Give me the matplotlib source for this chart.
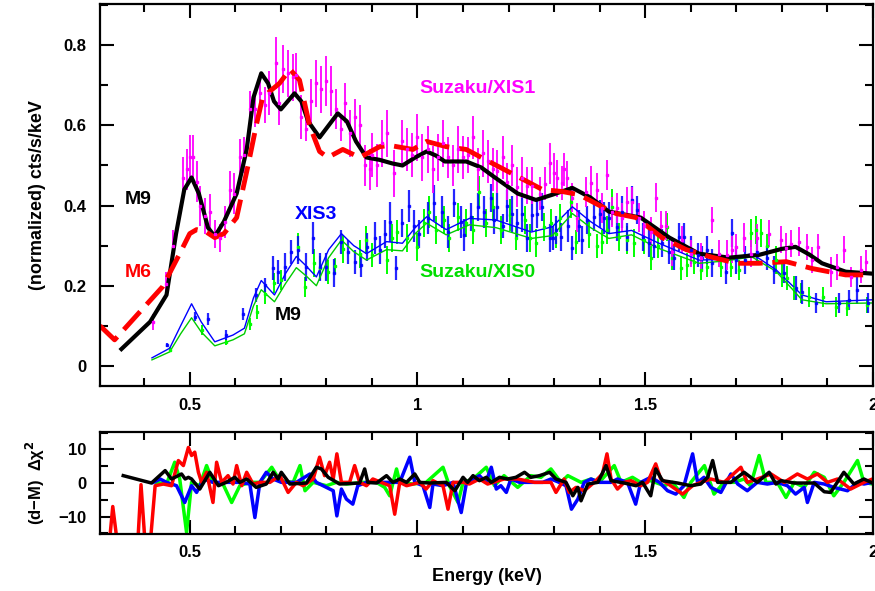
import numpy as np
import matplotlib.pyplot as plt
from matplotlib.ticker import MultipleLocator

plt.rcParams['font.family'] = ['Liberation Sans', 'DejaVu Sans']
plt.rcParams['font.weight'] = 'bold'
plt.rcParams['axes.labelweight'] = 'bold'

# XIS1 data (energy keV, counts, half error)
xis1_e = [0.420, 0.447, 0.463, 0.485, 0.493, 0.500, 0.507, 0.515, 0.522, 0.533,
          0.544, 0.555, 0.566, 0.577, 0.588, 0.598, 0.610, 0.620, 0.632, 0.643,
          0.654, 0.665, 0.675, 0.689, 0.697, 0.704, 0.715, 0.726, 0.734, 0.745,
          0.756, 0.767, 0.778, 0.789, 0.800, 0.811, 0.822, 0.833, 0.840, 0.851,
          0.862, 0.873, 0.884, 0.895, 0.900, 0.912, 0.923, 0.934, 0.949, 0.965,
          0.976, 0.987, 0.998, 1.009, 1.022, 1.033, 1.044, 1.055, 1.066, 1.077,
          1.088, 1.099, 1.110, 1.121, 1.132, 1.143, 1.154, 1.165, 1.175, 1.187,
          1.197, 1.208, 1.219, 1.230, 1.241, 1.252, 1.268, 1.279, 1.290, 1.300,
          1.307, 1.318, 1.322, 1.329, 1.340, 1.351, 1.370, 1.382, 1.393, 1.404,
          1.415, 1.426, 1.437, 1.448, 1.459, 1.470, 1.487, 1.498, 1.513, 1.524,
          1.535, 1.546, 1.559, 1.581, 1.600, 1.623, 1.647, 1.662, 1.680, 1.690,
          1.700, 1.717, 1.732, 1.746, 1.772, 1.798, 1.810, 1.820, 1.838, 1.855,
          1.867, 1.880, 1.908, 1.922, 1.937, 1.952, 1.973, 1.985]
xis1_v = [0.110, 0.205, 0.300, 0.470, 0.490, 0.520, 0.520, 0.460, 0.400, 0.375,
          0.385, 0.330, 0.320, 0.360, 0.440, 0.430, 0.520, 0.525, 0.640, 0.640,
          0.680, 0.650, 0.680, 0.755, 0.655, 0.740, 0.730, 0.720, 0.725, 0.620,
          0.590, 0.660, 0.705, 0.690, 0.710, 0.685, 0.640, 0.590, 0.655, 0.580,
          0.620, 0.600, 0.500, 0.490, 0.526, 0.500, 0.555, 0.580, 0.480, 0.560,
          0.540, 0.526, 0.570, 0.520, 0.540, 0.490, 0.520, 0.555, 0.520, 0.500,
          0.540, 0.520, 0.526, 0.570, 0.490, 0.530, 0.510, 0.490, 0.485, 0.520,
          0.460, 0.500, 0.447, 0.470, 0.450, 0.450, 0.430, 0.455, 0.505, 0.480,
          0.468, 0.456, 0.490, 0.470, 0.420, 0.370, 0.434, 0.456, 0.440, 0.394,
          0.476, 0.384, 0.394, 0.370, 0.410, 0.410, 0.370, 0.350, 0.335, 0.420,
          0.350, 0.350, 0.285, 0.315, 0.280, 0.270, 0.364, 0.280, 0.277, 0.290,
          0.297, 0.320, 0.280, 0.320, 0.330, 0.315, 0.295, 0.305, 0.310, 0.297,
          0.264, 0.297, 0.235, 0.247, 0.290, 0.222, 0.240, 0.260]
xis1_err = [0.020, 0.030, 0.040, 0.050, 0.050, 0.055, 0.055, 0.050, 0.050, 0.045,
            0.045, 0.035, 0.035, 0.040, 0.045, 0.050, 0.045, 0.045, 0.045, 0.045,
            0.050, 0.045, 0.055, 0.065, 0.055, 0.060, 0.058, 0.058, 0.055, 0.055,
            0.030, 0.055, 0.058, 0.058, 0.062, 0.062, 0.050, 0.030, 0.050, 0.058,
            0.046, 0.050, 0.050, 0.050, 0.054, 0.054, 0.058, 0.058, 0.058, 0.054,
            0.054, 0.054, 0.058, 0.058, 0.058, 0.058, 0.058, 0.058, 0.050, 0.050,
            0.058, 0.054, 0.046, 0.054, 0.054, 0.058, 0.054, 0.054, 0.054, 0.054,
            0.046, 0.050, 0.050, 0.050, 0.046, 0.046, 0.042, 0.042, 0.050, 0.050,
            0.046, 0.042, 0.042, 0.042, 0.037, 0.037, 0.037, 0.042, 0.042, 0.037,
            0.037, 0.037, 0.037, 0.037, 0.037, 0.037, 0.037, 0.037, 0.037, 0.037,
            0.037, 0.037, 0.037, 0.033, 0.033, 0.037, 0.033, 0.033, 0.037, 0.033,
            0.033, 0.037, 0.033, 0.033, 0.033, 0.033, 0.037, 0.033, 0.037, 0.033,
            0.033, 0.033, 0.037, 0.033, 0.033, 0.025, 0.033, 0.030]

# XIS3 data
xis3_e = [0.450, 0.511, 0.540, 0.579, 0.618, 0.645, 0.665, 0.682, 0.693, 0.710,
          0.723, 0.737, 0.756, 0.770, 0.785, 0.800, 0.816, 0.833, 0.847, 0.862,
          0.877, 0.890, 0.906, 0.917, 0.928, 0.940, 0.953, 0.967, 0.982, 0.993,
          1.004, 1.022, 1.037, 1.053, 1.066, 1.081, 1.096, 1.103, 1.118, 1.132,
          1.147, 1.162, 1.169, 1.175, 1.187, 1.197, 1.208, 1.219, 1.230, 1.241,
          1.252, 1.263, 1.274, 1.290, 1.297, 1.305, 1.316, 1.330, 1.340, 1.355,
          1.362, 1.373, 1.388, 1.400, 1.410, 1.420, 1.439, 1.450, 1.461, 1.471,
          1.483, 1.494, 1.509, 1.520, 1.537, 1.553, 1.564, 1.575, 1.586, 1.600,
          1.615, 1.625, 1.636, 1.647, 1.677, 1.690, 1.700, 1.720, 1.746, 1.768,
          1.783, 1.805, 1.831, 1.845, 1.875, 1.925, 1.947, 1.965, 1.990]
xis3_v = [0.052, 0.123, 0.117, 0.077, 0.130, 0.177, 0.202, 0.244, 0.235, 0.247,
          0.284, 0.290, 0.247, 0.320, 0.247, 0.247, 0.232, 0.310, 0.284, 0.260,
          0.252, 0.297, 0.320, 0.290, 0.330, 0.360, 0.244, 0.356, 0.400, 0.350,
          0.330, 0.370, 0.406, 0.385, 0.335, 0.406, 0.360, 0.327, 0.372, 0.397,
          0.384, 0.420, 0.364, 0.397, 0.350, 0.400, 0.380, 0.356, 0.380, 0.320,
          0.376, 0.380, 0.397, 0.320, 0.318, 0.340, 0.322, 0.350, 0.294, 0.350,
          0.314, 0.364, 0.372, 0.380, 0.370, 0.370, 0.347, 0.384, 0.322, 0.414,
          0.390, 0.322, 0.306, 0.300, 0.306, 0.285, 0.270, 0.322, 0.322, 0.290,
          0.277, 0.270, 0.290, 0.257, 0.235, 0.332, 0.264, 0.264, 0.285, 0.270,
          0.240, 0.232, 0.194, 0.185, 0.157, 0.157, 0.164, 0.190, 0.157]
xis3_err = [0.006, 0.012, 0.015, 0.012, 0.015, 0.018, 0.018, 0.030, 0.030, 0.035,
            0.030, 0.035, 0.035, 0.040, 0.035, 0.035, 0.035, 0.030, 0.030, 0.030,
            0.030, 0.035, 0.040, 0.035, 0.035, 0.050, 0.030, 0.035, 0.040, 0.040,
            0.035, 0.040, 0.045, 0.040, 0.040, 0.035, 0.040, 0.040, 0.035, 0.035,
            0.040, 0.035, 0.035, 0.035, 0.030, 0.040, 0.045, 0.035, 0.045, 0.035,
            0.040, 0.035, 0.035, 0.035, 0.030, 0.035, 0.035, 0.040, 0.030, 0.040,
            0.035, 0.035, 0.035, 0.035, 0.040, 0.040, 0.035, 0.040, 0.035, 0.035,
            0.035, 0.035, 0.035, 0.030, 0.035, 0.030, 0.030, 0.035, 0.035, 0.035,
            0.030, 0.030, 0.035, 0.035, 0.030, 0.035, 0.035, 0.035, 0.030, 0.030,
            0.035, 0.025, 0.030, 0.030, 0.025, 0.025, 0.025, 0.035, 0.025]

# XIS0 data
xis0_e = [0.456, 0.526, 0.579, 0.632, 0.647, 0.665, 0.684, 0.700, 0.737, 0.754,
          0.772, 0.787, 0.803, 0.818, 0.836, 0.873, 0.888, 0.900, 0.932, 0.943,
          0.956, 0.978, 0.998, 1.015, 1.026, 1.040, 1.059, 1.070, 1.088, 1.107,
          1.121, 1.136, 1.151, 1.165, 1.184, 1.202, 1.217, 1.235, 1.246, 1.260,
          1.278, 1.294, 1.305, 1.312, 1.338, 1.349, 1.377, 1.393, 1.404, 1.417,
          1.428, 1.443, 1.461, 1.476, 1.498, 1.513, 1.527, 1.548, 1.559, 1.578,
          1.592, 1.607, 1.622, 1.636, 1.666, 1.688, 1.706, 1.732, 1.743, 1.755,
          1.768, 1.787, 1.800, 1.811, 1.827, 1.842, 1.860, 1.890, 1.919, 1.943,
          1.987]
xis0_v = [0.040, 0.090, 0.060, 0.105, 0.135, 0.180, 0.207, 0.215, 0.297, 0.197,
          0.257, 0.244, 0.234, 0.250, 0.292, 0.280, 0.314, 0.277, 0.264, 0.320,
          0.334, 0.320, 0.297, 0.356, 0.384, 0.340, 0.364, 0.320, 0.372, 0.356,
          0.340, 0.434, 0.356, 0.397, 0.340, 0.376, 0.318, 0.364, 0.320, 0.306,
          0.347, 0.356, 0.330, 0.370, 0.410, 0.310, 0.330, 0.300, 0.310, 0.340,
          0.397, 0.322, 0.314, 0.306, 0.314, 0.270, 0.300, 0.347, 0.270, 0.244,
          0.252, 0.260, 0.240, 0.247, 0.247, 0.247, 0.240, 0.332, 0.340, 0.332,
          0.300, 0.264, 0.227, 0.220, 0.194, 0.182, 0.172, 0.172, 0.147, 0.145,
          0.152]
xis0_err = [0.006, 0.012, 0.008, 0.015, 0.018, 0.025, 0.025, 0.025, 0.035, 0.025,
            0.035, 0.030, 0.030, 0.020, 0.035, 0.035, 0.035, 0.030, 0.035, 0.035,
            0.030, 0.035, 0.035, 0.035, 0.040, 0.035, 0.035, 0.035, 0.035, 0.035,
            0.035, 0.040, 0.035, 0.035, 0.035, 0.040, 0.030, 0.035, 0.035, 0.035,
            0.035, 0.035, 0.035, 0.035, 0.040, 0.030, 0.035, 0.030, 0.030, 0.035,
            0.045, 0.035, 0.035, 0.035, 0.035, 0.030, 0.030, 0.035, 0.030, 0.030,
            0.030, 0.030, 0.025, 0.025, 0.025, 0.025, 0.025, 0.035, 0.035, 0.035,
            0.030, 0.035, 0.030, 0.030, 0.030, 0.025, 0.025, 0.025, 0.025, 0.020,
            0.020]

# model curves
m9_e = [0.350, 0.413, 0.449, 0.470, 0.488, 0.504, 0.520, 0.540, 0.555, 0.575,
        0.603, 0.625, 0.640, 0.657, 0.672, 0.685, 0.700, 0.715, 0.730, 0.745,
        0.760, 0.785, 0.805, 0.825, 0.845, 0.865, 0.888, 0.917, 0.945, 0.967,
        0.995, 1.020, 1.040, 1.060, 1.107, 1.140, 1.170, 1.220, 1.260, 1.296,
        1.340, 1.380, 1.420, 1.490, 1.553, 1.618, 1.684, 1.750, 1.800, 1.830,
        1.860, 1.888, 1.940, 2.000]
m9_v = [0.042, 0.110, 0.177, 0.330, 0.440, 0.470, 0.430, 0.345, 0.323, 0.360,
        0.430, 0.540, 0.670, 0.730, 0.705, 0.660, 0.640, 0.660, 0.680, 0.660,
        0.610, 0.570, 0.600, 0.630, 0.610, 0.560, 0.520, 0.514, 0.505, 0.500,
        0.520, 0.535, 0.525, 0.510, 0.510, 0.495, 0.470, 0.430, 0.414, 0.427,
        0.444, 0.420, 0.385, 0.370, 0.320, 0.280, 0.270, 0.277, 0.292, 0.297,
        0.278, 0.256, 0.235, 0.230]
m6_e = [0.303, 0.335, 0.440, 0.478, 0.500, 0.515, 0.535, 0.555, 0.575, 0.603,
        0.628, 0.646, 0.660, 0.697, 0.720, 0.741, 0.763, 0.785, 0.803, 0.836,
        0.873, 0.917, 0.939, 0.990, 1.020, 1.063, 1.107, 1.165, 1.224, 1.274,
        1.318, 1.355, 1.400, 1.436, 1.480, 1.537, 1.590, 1.640, 1.700, 1.750,
        1.810, 1.866, 1.940, 2.000]
m6_v = [0.100, 0.065, 0.197, 0.280, 0.330, 0.340, 0.335, 0.320, 0.330, 0.370,
        0.500, 0.600, 0.670, 0.705, 0.740, 0.713, 0.600, 0.535, 0.520, 0.540,
        0.520, 0.547, 0.550, 0.540, 0.560, 0.547, 0.540, 0.505, 0.470, 0.440,
        0.435, 0.427, 0.400, 0.380, 0.370, 0.320, 0.290, 0.273, 0.256, 0.256,
        0.260, 0.243, 0.227, 0.227]
mod_e = [0.417, 0.456, 0.480, 0.504, 0.525, 0.555, 0.595, 0.620, 0.640, 0.657,
         0.686, 0.710, 0.734, 0.755, 0.778, 0.805, 0.833, 0.860, 0.888, 0.932,
         0.967, 0.995, 1.020, 1.063, 1.114, 1.172, 1.250, 1.296, 1.340, 1.380,
         1.420, 1.470, 1.530, 1.618, 1.677, 1.734, 1.787, 1.844, 1.897, 2.000]
mod3_v = [0.020, 0.044, 0.100, 0.155, 0.110, 0.060, 0.077, 0.094, 0.170, 0.213,
          0.177, 0.230, 0.273, 0.250, 0.222, 0.290, 0.330, 0.300, 0.280, 0.310,
          0.306, 0.345, 0.372, 0.340, 0.368, 0.364, 0.334, 0.347, 0.397, 0.360,
          0.330, 0.338, 0.306, 0.264, 0.266, 0.280, 0.240, 0.177, 0.160, 0.165]
mod0_v = [0.015, 0.035, 0.080, 0.120, 0.085, 0.050, 0.065, 0.080, 0.150, 0.190,
          0.160, 0.205, 0.245, 0.225, 0.200, 0.270, 0.314, 0.285, 0.264, 0.290,
          0.287, 0.330, 0.356, 0.327, 0.352, 0.345, 0.318, 0.325, 0.380, 0.345,
          0.318, 0.327, 0.293, 0.256, 0.262, 0.272, 0.236, 0.165, 0.155, 0.157]

# residuals (d-M) delta chi^2
res_blk_e = [0.354, 0.416, 0.446, 0.460, 0.482, 0.490, 0.497, 0.504, 0.522, 0.544,
             0.563, 0.580, 0.599, 0.610, 0.625, 0.646, 0.668, 0.683, 0.694, 0.701,
             0.720, 0.756, 0.778, 0.789, 0.804, 0.829, 0.873, 0.884, 0.891, 0.910,
             0.932, 0.946, 0.961, 0.976, 0.994, 1.005, 1.027, 1.063, 1.082, 1.100,
             1.110, 1.122, 1.136, 1.151, 1.162, 1.180, 1.198, 1.216, 1.235, 1.249,
             1.268, 1.290, 1.304, 1.326, 1.341, 1.352, 1.359, 1.374, 1.396, 1.414,
             1.425, 1.454, 1.480, 1.494, 1.512, 1.523, 1.538, 1.571, 1.600, 1.622,
             1.637, 1.648, 1.659, 1.688, 1.717, 1.746, 1.772, 1.787, 1.798, 1.827,
             1.871, 1.893, 1.907, 1.936, 1.958, 1.980, 1.999]
res_blk_v = [2.2, 0.0, 3.7, 1.2, 2.7, 1.2, 1.7, 1.2, -1.8, 3.2,
             -0.8, 0.2, 1.7, 0.2, 1.2, -1.3, -0.3, 3.2, 1.2, 3.2,
             -0.3, 0.0, 4.7, 4.2, 1.7, -0.3, 0.0, 4.2, 0.2, 0.0,
             2.2, 0.2, 1.2, 0.2, 2.7, 0.2, 0.0, 0.2, -2.3, 1.7,
             0.2, 2.2, 0.7, 1.7, 0.2, 1.7, 1.2, 1.7, 3.2, 1.7,
             2.2, 3.2, 1.2, 0.2, -3.8, -1.3, -5.3, -0.3, 0.2, 5.2,
             0.7, 0.0, -0.8, 0.2, -3.8, 4.2, 0.7, 0.0, -0.8, -0.3,
             1.7, 6.7, 0.2, 0.2, 3.2, 0.2, 3.2, -0.3, 0.7, 0.0,
             0.0, -2.6, -2.8, 3.2, -0.3, 1.2, 0.0]
res_red_e = [0.322, 0.331, 0.343, 0.385, 0.393, 0.403, 0.412, 0.424, 0.442, 0.460,
             0.475, 0.486, 0.497, 0.504, 0.511, 0.519, 0.526, 0.537, 0.551, 0.559,
             0.570, 0.584, 0.595, 0.603, 0.614, 0.625, 0.639, 0.654, 0.676, 0.698,
             0.716, 0.734, 0.749, 0.771, 0.785, 0.796, 0.807, 0.815, 0.823, 0.833,
             0.851, 0.862, 0.873, 0.888, 0.902, 0.924, 0.939, 0.950, 0.961, 0.976,
             1.005, 1.019, 1.034, 1.056, 1.067, 1.078, 1.100, 1.114, 1.136, 1.154,
             1.190, 1.220, 1.257, 1.293, 1.304, 1.322, 1.333, 1.348, 1.366, 1.388,
             1.406, 1.416, 1.425, 1.439, 1.454, 1.469, 1.490, 1.505, 1.523, 1.534,
             1.556, 1.582, 1.604, 1.622, 1.644, 1.673, 1.710, 1.724, 1.746, 1.776,
             1.805, 1.834, 1.856, 1.878, 1.900, 1.922, 1.951, 1.980, 1.999]
res_red_v = [-20.0, -7.0, -20.0, -20.0, -0.5, -20.0, -20.0, -0.8, -0.3, -0.8,
             6.7, 5.2, 10.6, 8.2, 9.2, 3.2, 0.2, 3.2, -5.8, 6.2,
             0.2, 2.2, -0.3, 5.2, -0.8, 3.2, -0.3, 0.2, 0.2, 2.2,
             -2.8, 0.2, -0.8, 1.2, 7.7, 2.2, 6.2, 1.2, 8.7, 0.2,
             0.2, 5.2, 0.2, -0.8, 1.2, 0.0, -0.8, -9.3, 0.2, -0.8,
             0.2, -1.8, 0.7, -0.8, -7.8, 0.2, 0.2, -0.3, 1.2, -0.3,
             1.2, 1.2, 0.2, 0.2, -2.8, 1.2, -2.8, -1.3, -2.3, 0.2,
             2.7, 8.7, 1.2, -1.8, 0.2, 0.7, -0.8, 0.2, 5.7, 1.2,
             -0.8, -3.3, -0.8, 0.2, 1.2, 0.2, 4.7, 0.2, 1.2, 2.7,
             0.2, 2.7, 1.2, 2.7, 0.2, 1.2, -1.8, 0.2, 1.2]
res_grn_e = [0.427, 0.449, 0.467, 0.478, 0.493, 0.504, 0.522, 0.537, 0.551, 0.573,
             0.592, 0.610, 0.632, 0.654, 0.680, 0.698, 0.727, 0.742, 0.753, 0.771,
             0.800, 0.822, 0.844, 0.880, 0.910, 0.928, 0.939, 0.954, 0.961, 0.990,
             1.019, 1.056, 1.070, 1.089, 1.100, 1.122, 1.151, 1.169, 1.190, 1.220,
             1.249, 1.271, 1.293, 1.315, 1.330, 1.359, 1.381, 1.399, 1.432, 1.447,
             1.472, 1.490, 1.512, 1.542, 1.560, 1.585, 1.600, 1.630, 1.651, 1.673,
             1.695, 1.717, 1.731, 1.750, 1.765, 1.790, 1.809, 1.827, 1.849, 1.871,
             1.893, 1.914, 1.936, 1.966, 1.980, 1.999]
res_grn_v = [0.2, -0.3, 6.2, 1.2, -14.7, 0.2, -0.8, 5.2, 0.2, -0.3,
             -5.8, -0.8, 0.2, 0.2, 4.7, 0.7, 0.2, 5.2, -2.3, 0.2,
             -0.8, 0.2, -0.3, 0.2, 0.2, -1.3, -3.8, 4.2, 0.2, -0.3,
             0.2, 4.7, -0.8, -5.8, 0.2, 1.2, 4.7, -0.8, 2.2, -1.3,
             2.2, 1.7, 4.2, 0.2, 2.2, 0.2, 1.2, 0.2, 5.2, 0.2,
             1.7, 0.2, 0.7, -0.8, 0.2, -4.3, 0.2, 5.2, -3.3, 0.2,
             0.2, 1.2, -0.8, 8.2, 0.2, 0.2, -4.3, 0.2, -1.3, 3.2,
             1.7, -3.8, 0.2, 6.7, 0.2, -0.3]
res_blu_e = [0.420, 0.435, 0.449, 0.471, 0.489, 0.504, 0.515, 0.530, 0.551, 0.580,
             0.610, 0.632, 0.643, 0.654, 0.668, 0.683, 0.701, 0.734, 0.764, 0.778,
             0.800, 0.815, 0.823, 0.833, 0.844, 0.858, 0.869, 0.888, 0.917, 0.939,
             0.961, 0.983, 0.994, 1.012, 1.027, 1.034, 1.056, 1.078, 1.096, 1.107,
             1.136, 1.150, 1.162, 1.173, 1.183, 1.195, 1.205, 1.224, 1.249, 1.275,
             1.293, 1.311, 1.326, 1.338, 1.352, 1.366, 1.381, 1.399, 1.425, 1.439,
             1.461, 1.479, 1.490, 1.512, 1.531, 1.549, 1.567, 1.585, 1.604, 1.615,
             1.629, 1.644, 1.666, 1.688, 1.703, 1.724, 1.746, 1.768, 1.790, 1.812,
             1.830, 1.849, 1.856, 1.871, 1.893, 1.914, 1.944, 1.966, 1.980, 1.999]
res_blu_v = [0.2, 1.2, 0.2, -0.8, -5.8, -0.8, -2.8, 1.2, 0.2, 0.2,
             0.2, -0.3, -10.3, 0.2, 3.2, 1.2, 0.2, 0.2, 2.7, 0.2,
             -1.3, -2.3, -9.8, -1.8, -4.8, -6.3, -0.8, 0.2, 0.2, 0.2,
             0.2, 7.7, 0.2, -0.8, -7.3, -0.3, -0.8, 0.2, -8.8, -0.3,
             2.2, 0.2, 4.7, -1.8, -0.8, -2.8, 1.2, 0.2, 0.2, 0.2,
             1.2, 0.2, -0.8, -7.8, -4.8, 0.2, 1.2, 0.2, 0.2, 1.2,
             0.2, -6.3, 0.2, 1.7, 0.2, -2.3, -3.3, -0.8, 8.7, 0.2,
             1.7, -1.3, -2.8, 2.7, -0.3, -2.3, 0.2, -0.3, 0.2, -0.8,
             -3.3, -1.3, -5.8, 0.2, -0.3, -1.3, -2.3, 0.2, -0.3, 0.2]

xticks = [0.5, 1, 1.5, 2]
xticklabels = ['0.5', '1', '1.5', '2']
yticks = [0, 0.2, 0.4, 0.6, 0.8]
yticklabels = ['0', '0.2', '0.4', '0.6', '0.8']
rticks = [-10, 0, 10]
rticklabels = ['\u221210', '0', '10']

magenta = '#ff00ff'
green = '#00ff00'
blue = '#0000ff'
red = '#ff0000'

fig = plt.figure(figsize=(8.75, 5.91), dpi=100)
ax = fig.add_axes([0.1143, 0.347, 0.8834, 0.6463])
ax2 = fig.add_axes([0.1143, 0.0964, 0.8834, 0.1726])

ax.errorbar(xis0_e, xis0_v, yerr=xis0_err, fmt='s', ms=2, color=green,
            elinewidth=1.4, capsize=0)
ax.errorbar(xis3_e, xis3_v, yerr=xis3_err, fmt='s', ms=2, color=blue,
            elinewidth=1.6, capsize=0, alpha=0.85)
ax.errorbar(xis1_e, xis1_v, yerr=xis1_err, fmt='s', ms=2, color=magenta,
            elinewidth=1.3, capsize=0)

ax.plot(mod_e, mod0_v, color='#00cc00', lw=1.0)
ax.plot(mod_e, mod3_v, color=blue, lw=1.0)
ax.plot(m9_e, m9_v, color='black', lw=3.0, solid_joinstyle='round')
ax.plot(m6_e, m6_v, color=red, lw=3.5, dashes=(5, 2))

ax.text(1.004, 0.693, 'Suzaku/XIS1', color=magenta, fontsize=14, va='center')
ax.text(0.730, 0.377, 'XIS3', color=blue, fontsize=14, va='center')
ax.text(1.004, 0.234, 'Suzaku/XIS0', color='#00dd00', fontsize=14, va='center')
ax.text(0.357, 0.414, 'M9', color='black', fontsize=14, va='center')
ax.text(0.357, 0.234, 'M6', color=red, fontsize=14, va='center')
ax.text(0.686, 0.125, 'M9', color='black', fontsize=14, va='center')

ax2.plot(res_grn_e, res_grn_v, color=green, lw=2.5)
ax2.plot(res_blu_e, res_blu_v, color=blue, lw=2.5)
ax2.plot(res_red_e, res_red_v, color=red, lw=2.5)
ax2.plot(res_blk_e, res_blk_v, color='black', lw=2.5)

for a in (ax, ax2):
    a.set_xlim(0.303, 2.0)
    a.set_xticks(xticks)
    a.set_xticklabels(xticklabels)
    a.xaxis.set_minor_locator(MultipleLocator(0.1))
    a.tick_params(which='both', direction='in', top=True, right=True,
                  width=1.5, labelsize=12)
    a.tick_params(which='major', length=10)
    a.tick_params(which='minor', length=6)
    for s in a.spines.values():
        s.set_linewidth(1.6)

ax.set_ylim(-0.05, 0.903)
ax.set_yticks(yticks)
ax.set_yticklabels(yticklabels)
ax.yaxis.set_minor_locator(MultipleLocator(0.1))
ax.tick_params(axis='y', pad=10)
ax.tick_params(axis='x', pad=9)
ax.set_ylabel('(normalized) cts/s/keV', fontsize=13, labelpad=12)

ax2.set_ylim(-15.2, 15.2)
ax2.set_yticks(rticks)
ax2.set_yticklabels(rticklabels)
ax2.yaxis.set_minor_locator(MultipleLocator(5))
ax2.tick_params(axis='y', pad=10)
ax2.tick_params(axis='x', pad=8)
ax2.set_ylabel('(d\u2212M)  \u0394\u03c7$^2$', fontsize=12, labelpad=8)
ax2.set_xlabel('Energy (keV)', fontsize=13, labelpad=6)

fig.savefig('out.png', dpi=100)
